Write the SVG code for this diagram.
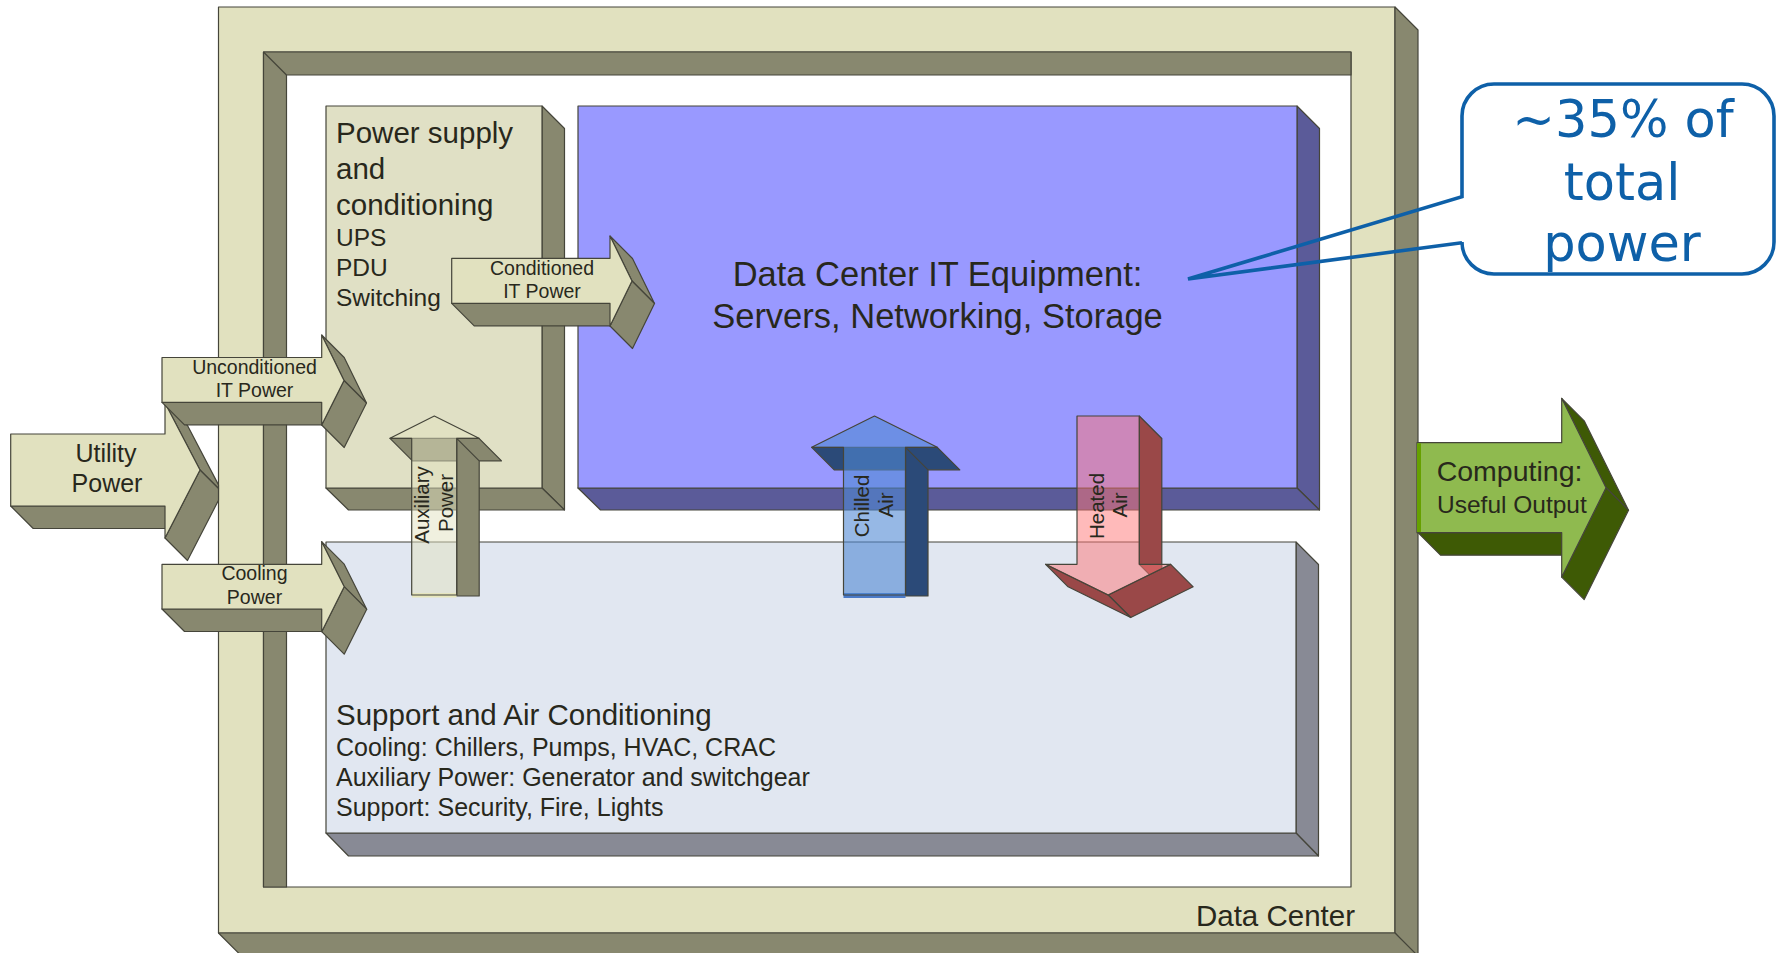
<svg xmlns="http://www.w3.org/2000/svg" width="1777" height="953" viewBox="0 0 1777 953">
<defs>
<style>
.ln{stroke:#45453a;stroke-width:1.2;stroke-linejoin:round}
.fl{fill:#e1e1bf}
.fd{fill:#88886f}
.ps{fill:#e0e0c5}
.itf{fill:#9999ff}
.itd{fill:#5b5b99}
.spf{fill:#e1e7f1}
.spd{fill:#888a95}
.gf{fill:#8fba4f}
.gd{fill:#3e5a05}
.af{fill:#e1e1bf;fill-opacity:0.5}
.cf{fill:#5088d3;fill-opacity:0.6}
.cd{fill:#2b4a78}
.hf{fill:#ff7676;fill-opacity:0.5}
.hd{fill:#9a4848}
text{font-family:"Liberation Sans",Arial,sans-serif;fill:#28281c}
.big{font-size:29.5px}
.mid{font-size:25px}
.sm{font-size:24.5px}
.lab{font-size:19.5px;text-anchor:middle}
.rot{font-size:20.5px;text-anchor:middle}
.co{font-family:"DejaVu Sans",Verdana,sans-serif;font-size:51px;fill:#0e60a8;text-anchor:middle}
</style>
</defs>
<rect x="0" y="0" width="1777" height="953" fill="#ffffff"/>

<g id="data-center">
<path class="fl ln" fill-rule="evenodd" d="M218.5,7H1395V933H218.5Z M263.5,52H1351V887H263.5Z"/>
<polygon class="fd ln" points="263.5,52 1351,52 1351,75 286.5,75 286.5,887 263.5,887"/>
<line class="ln" x1="263.5" y1="52" x2="286.5" y2="75"/>
<polygon class="fd ln" points="1395,7 1418,30 1418,960 1395,933"/>
<polygon class="fd ln" points="218.5,933 1395,933 1418,956 241.5,956"/>
<text x="1355" y="926" class="big" text-anchor="end">Data Center</text>
</g>

<g id="power-supply">
<polygon class="fd ln" points="542,106 564.5,128.5 564.5,510 542,488"/>
<polygon class="fd ln" points="326,488 542,488 564.5,510 348.5,510"/>
<rect class="ps ln" x="326" y="106" width="216" height="382"/>
<text x="336" y="142.5" class="big">Power supply</text>
<text x="336" y="178.5" class="big">and</text>
<text x="336" y="214.5" class="big">conditioning</text>
<text x="336" y="246" class="sm">UPS</text>
<text x="336" y="276" class="sm">PDU</text>
<text x="336" y="306" class="sm">Switching</text>
</g>

<g id="it-equipment">
<polygon class="itd ln" points="1297,106 1319.5,128.5 1319.5,510 1297,488"/>
<polygon class="itd ln" points="578,488 1297,488 1319.5,510 600.5,510"/>
<rect class="itf ln" x="578" y="106" width="719" height="382"/>
<text x="937.5" y="286" font-size="34.5" text-anchor="middle">Data Center IT Equipment:</text>
<text x="937.5" y="328" font-size="34.5" text-anchor="middle">Servers, Networking, Storage</text>
</g>

<g id="support">
<polygon class="spd ln" points="1296,542 1318.5,564.5 1318.5,856 1296,833"/>
<polygon class="spd ln" points="326,833 1296,833 1318.5,856 348.5,856"/>
<rect class="spf ln" x="326" y="542" width="970" height="291"/>
<text x="336" y="725" class="big">Support and Air Conditioning</text>
<text x="336" y="756" class="mid">Cooling: Chillers, Pumps, HVAC, CRAC</text>
<text x="336" y="786" class="mid">Auxiliary Power: Generator and switchgear</text>
<text x="336" y="816" class="mid">Support: Security, Fire, Lights</text>
</g>

<g id="connectors">
<g id="utility-power">
<polygon class="fd ln" points="10.7,506 165,506 187.5,528.5 33.2,528.5"/>
<polygon class="fd ln" points="165,403 187.5,425.5 218.5,484.9 218.5,488.5 200,470"/>
<polygon class="fd ln" points="200,470 218.5,488.5 218.5,500.3 187.5,560.5 165,538"/>
<polygon class="fl ln" points="10.7,434 165,434 165,403 200,470 165,538 165,506 10.7,506"/>
<text x="106" y="461.7" font-size="25" text-anchor="middle">Utility</text>
<text x="107" y="491.7" font-size="25" text-anchor="middle">Power</text>
</g>
<g id="unconditioned-power">
<polygon class="fd ln" points="162,402.3 321.7,402.3 344.2,424.8 184.5,424.8"/>
<polygon class="fd ln" points="321.7,335 344.2,357.5 366.5,403 344,380.5"/>
<polygon class="fd ln" points="344,380.5 366.5,403 344.2,447.5 321.7,425"/>
<polygon class="fl ln" points="162,357.5 321.7,357.5 321.7,335 344,380.5 321.7,425 321.7,402.3 162,402.3"/>
<text x="254.5" y="373.5" class="lab">Unconditioned</text>
<text x="254.5" y="396.5" class="lab">IT Power</text>
</g>
<g id="cooling-power">
<polygon class="fd ln" points="162,609 321.7,609 344.2,631.5 184.5,631.5"/>
<polygon class="fd ln" points="321.7,541.7 344.2,564.2 366.7,609.2 344.2,586.7"/>
<polygon class="fd ln" points="344.2,586.7 366.7,609.2 344.2,654.2 321.7,631.7"/>
<polygon class="fl ln" points="162,564.3 321.7,564.3 321.7,541.7 344.2,586.7 321.7,631.7 321.7,609 162,609"/>
<text x="254.5" y="580" class="lab">Cooling</text>
<text x="254.5" y="603.5" class="lab">Power</text>
</g>
<g id="conditioned-power">
<polygon class="fd ln" points="451.7,303.3 610,303.3 632.5,325.8 474.2,325.8"/>
<polygon class="fd ln" points="610,236 632.5,258.5 654.5,303.5 632,281"/>
<polygon class="fd ln" points="632,281 654.5,303.5 632.5,348.5 610,326"/>
<polygon class="fl ln" points="451.7,258.3 610,258.3 610,236 632,281 610,326 610,303.3 451.7,303.3"/>
<text x="542" y="275" class="lab">Conditioned</text>
<text x="542" y="298" class="lab">IT Power</text>
</g>
<g id="auxiliary-power">
<polygon class="fd ln" points="390,438.3 479,438.3 501.5,460.8 412.5,460.8"/>
<polygon class="fd ln" points="456.7,438.3 479.2,460.8 479.2,596 456.7,596"/>
<rect x="412" y="593" width="44.5" height="4.5" fill="#e8e8bc"/>
<polygon class="af ln" points="411.7,595 411.7,438.3 390,438.3 434.3,416 479,438.3 456.7,438.3 456.7,595"/>
<text transform="translate(428.5,505) rotate(-90)" class="rot">Auxiliary</text>
<text transform="translate(453,503) rotate(-90)" class="rot">Power</text>
</g>
<g id="chilled-air">
<polygon class="cd ln" points="811.7,447.3 937.3,447.3 959.8,469.8 834.2,469.8"/>
<polygon class="cd ln" points="905.5,447.3 928,469.8 928,596 905.5,596"/>
<rect x="843.5" y="593" width="62" height="5" fill="#4a7ac8"/>
<polygon class="cf ln" points="843.5,595 843.5,447.3 811.7,447.3 874.5,416 937.3,447.3 905.5,447.3 905.5,595"/>
<text transform="translate(869,506) rotate(-90)" class="rot">Chilled</text>
<text transform="translate(893.3,505) rotate(-90)" class="rot">Air</text>
</g>
<g id="heated-air">
<polygon class="hd ln" points="1139.3,416 1161.8,438.5 1161.8,586.8 1139.3,564.3"/>
<polygon class="hd ln" points="1108.2,595 1130.7,617.5 1193.2,586.8 1170.7,564.3"/>
<polygon class="hd ln" points="1045.6,564.3 1068.1,586.8 1130.7,617.5 1108.2,595"/>
<polygon class="hf ln" points="1077,416 1139.3,416 1139.3,564.3 1170.7,564.3 1108.2,595 1045.6,564.3 1077,564.3"/>
<text transform="translate(1103.7,506) rotate(-90)" class="rot">Heated</text>
<text transform="translate(1126.7,505) rotate(-90)" class="rot">Air</text>
</g>
<g id="computing-output">
<polygon class="gd ln" points="1418,532.7 1561.7,532.7 1584.2,555.2 1440.5,555.2"/>
<polygon class="gd ln" points="1561.7,398.3 1584.2,420.8 1628.5,510.2 1606,487.7"/>
<polygon class="gd ln" points="1606,487.7 1628.5,510.2 1584.2,599.6 1561.7,577.1"/>
<polygon class="gf ln" points="1417,442.7 1561.7,442.7 1561.7,398.3 1606,487.7 1561.7,577.1 1561.7,532.7 1417,532.7"/>
<rect x="1417" y="443.3" width="4" height="88.8" fill="#66a000"/>
<text x="1436.7" y="481" font-size="28.5">Computing:</text>
<text x="1437" y="513.3" font-size="24.5">Useful Output</text>
</g>
</g>

<g id="callout">
<path d="M1462,196.7 V116 A32,32 0 0 1 1494,84 H1742 A32,32 0 0 1 1774,116 V242 A32,32 0 0 1 1742,274 H1494 A32,32 0 0 1 1462,242 V242.7 L1188,279 Z" fill="none" stroke="#0e60a8" stroke-width="3.6" stroke-linejoin="miter"/>
<text x="1623" y="136.7" class="co">~35% of</text>
<text x="1622" y="200" class="co">total</text>
<text x="1622" y="261" class="co">power</text>
</g>
</svg>
